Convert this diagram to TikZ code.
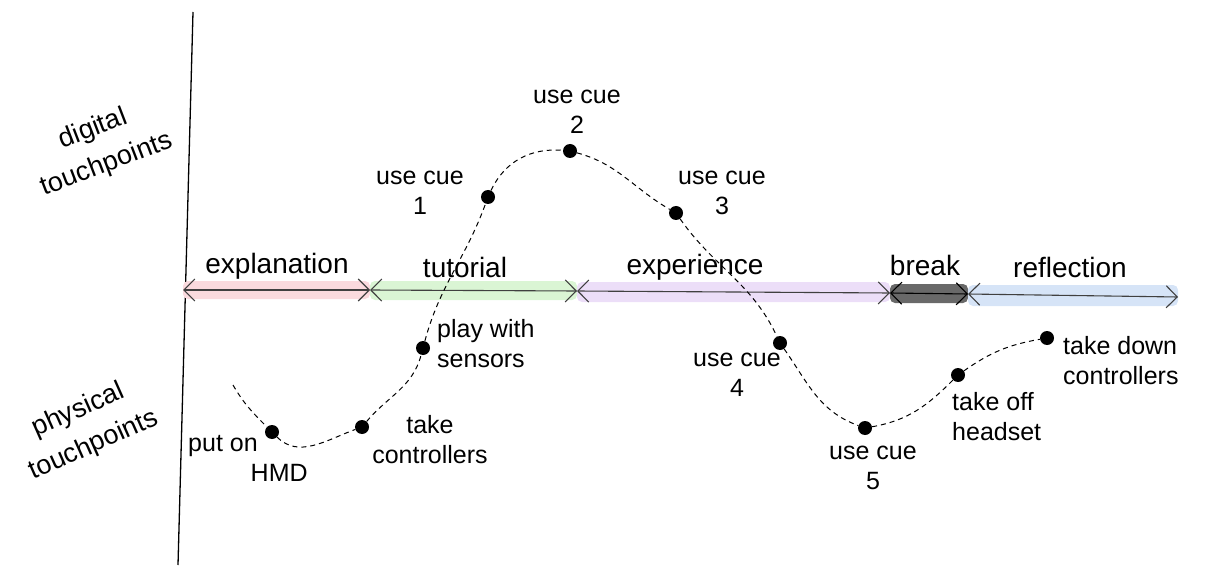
\documentclass[tikz,border=0pt]{standalone}
\usepackage{fontspec}
\setmainfont{Liberation Sans}
\usepackage{xcolor}
\usetikzlibrary{arrows.meta}

\definecolor{explfill}{RGB}{250,218,222}
\definecolor{tutfill}{RGB}{218,245,212}
\definecolor{expfill}{RGB}{236,222,248}
\definecolor{brkfill}{RGB}{105,105,105}
\definecolor{refifill}{RGB}{214,228,247}

\begin{document}
\begin{tikzpicture}[x=1pt,y=-1pt,
	dot/.style={circle, fill=black, inner sep=0pt, minimum size=14pt},
	tplabel/.style={align=center, inner sep=0pt, font=\fontsize{25}{30}\selectfont},
	axislabel/.style={align=center, inner sep=0pt, font=\fontsize{27}{38}\selectfont},
	phaselabel/.style={inner sep=0pt, font=\fontsize{28}{30}\selectfont},
	phasebar/.style={rounded corners=5pt},
	phasearrow/.style={{Straight Barb[length=11pt,width=22pt]}-{Straight Barb[length=11pt,width=22pt]}, line width=1.1pt, draw=black!75},
	journey/.style={dash pattern=on 5pt off 4pt, line width=1pt}]
	\useasboundingbox (0,0) rectangle (1206,577);
	\coordinate (axtop) at (193,12);
	\coordinate (axbot) at (178,565);
	\draw[line width=1.3pt](axtop) -- (axbot);
	\node[axislabel, rotate=21] at (100,147)(digital){digital\\touchpoints};
	\node[axislabel, rotate=24] at (86,428)(physical){physical\\touchpoints};
	\coordinate (ph0) at (183,290);
	\coordinate (ph1) at (370,290);
	\coordinate (ph2) at (577,291);
	\coordinate (ph3) at (890,293);
	\coordinate (ph4) at (968,294);
	\coordinate (ph5) at (1178,297);
	\fill[phasebar, explfill]([yshift=9pt]ph0) rectangle ([yshift=-9pt]ph1);
	\fill[phasebar, tutfill ]([yshift=9pt]ph1) rectangle ([yshift=-9pt]ph2);
	\fill[phasebar, expfill ]([yshift=9pt]ph2) rectangle ([yshift=-9pt]ph3);
	\fill[phasebar, brkfill ]([yshift=9pt]ph3) rectangle ([yshift=-9pt]ph4);
	\fill[phasebar, refifill]([yshift=9pt]ph4) rectangle ([yshift=-9pt]ph5);
	\draw[phasearrow](ph0) -- (ph1);
	\draw[phasearrow](ph1) -- (ph2);
	\draw[phasearrow](ph2) -- (ph3);
	\draw[phasearrow, draw=black](ph3) -- (ph4);
	\draw[phasearrow](ph4) -- (ph5);
	\node[phaselabel] at (277,266)(expl){explanation};
	\node[phaselabel] at (465,267)(tut){tutorial};
	\node[phaselabel] at (695,267)(exper){experience};
	\node[phaselabel] at (925,265)(brk){break};
	\node[phaselabel] at (1070,267)(refl){reflection};
	\coordinate (start) at (233,385);
	\node[dot] at (272,432)(hmd){};
	\node[dot] at (362,427)(ctrl){};
	\node[dot] at (423,348)(sensors){};
	\node[dot] at (488,197)(cue1){};
	\node[dot] at (570,151)(cue2){};
	\node[dot] at (676,213)(cue3){};
	\node[dot] at (780,343)(cue4){};
	\node[dot] at (865,428)(cue5){};
	\node[dot] at (958,375)(headset){};
	\node[dot] at (1047,338)(ctrldown){};
	\draw[journey](start) to[out=-60,in=135] (hmd);
	\draw[journey](hmd) to[out=-45,in=200] (ctrl);
	\draw[journey](ctrl) to[out=50,in=-105] (sensors);
	\draw[journey](sensors) to[out=75,in=-110] (cue1);
	\draw[journey](cue1) to[out=65,in=175] (cue2);
	\draw[journey](cue2) to[out=-15,in=150] (cue3);
	\draw[journey](cue3) to[out=-55,in=115] (cue4);
	\draw[journey](cue4) to[out=-55,in=160] (cue5);
	\draw[journey](cue5) to[out=10,in=-135] (headset);
	\draw[journey](headset) to[out=35,in=190] (ctrldown);
	\node[tplabel, align=left, anchor=west] at (188,458)(hmdlab){put on\\\hspace*{2.5em}HMD};
	\node[tplabel] at (430,440)(ctrllab){take\\controllers};
	\node[tplabel, align=left, anchor=west] at (437,344)(senslab){play with\\sensors};
	\node[tplabel] at (420,193)(cue1lab){use cue\\1};
	\node[tplabel] at (577,112)(cue2lab){use cue\\2};
	\node[tplabel] at (722,193)(cue3lab){use cue\\3};
	\node[tplabel] at (737,375)(cue4lab){use cue\\4};
	\node[tplabel] at (873,468)(cue5lab){use cue\\5};
	\node[tplabel, align=left, anchor=west] at (952,417)(headlab){take off\\headset};
	\node[tplabel, align=left, anchor=west] at (1063,361)(downlab){take down\\controllers};
\end{tikzpicture}
\end{document}
